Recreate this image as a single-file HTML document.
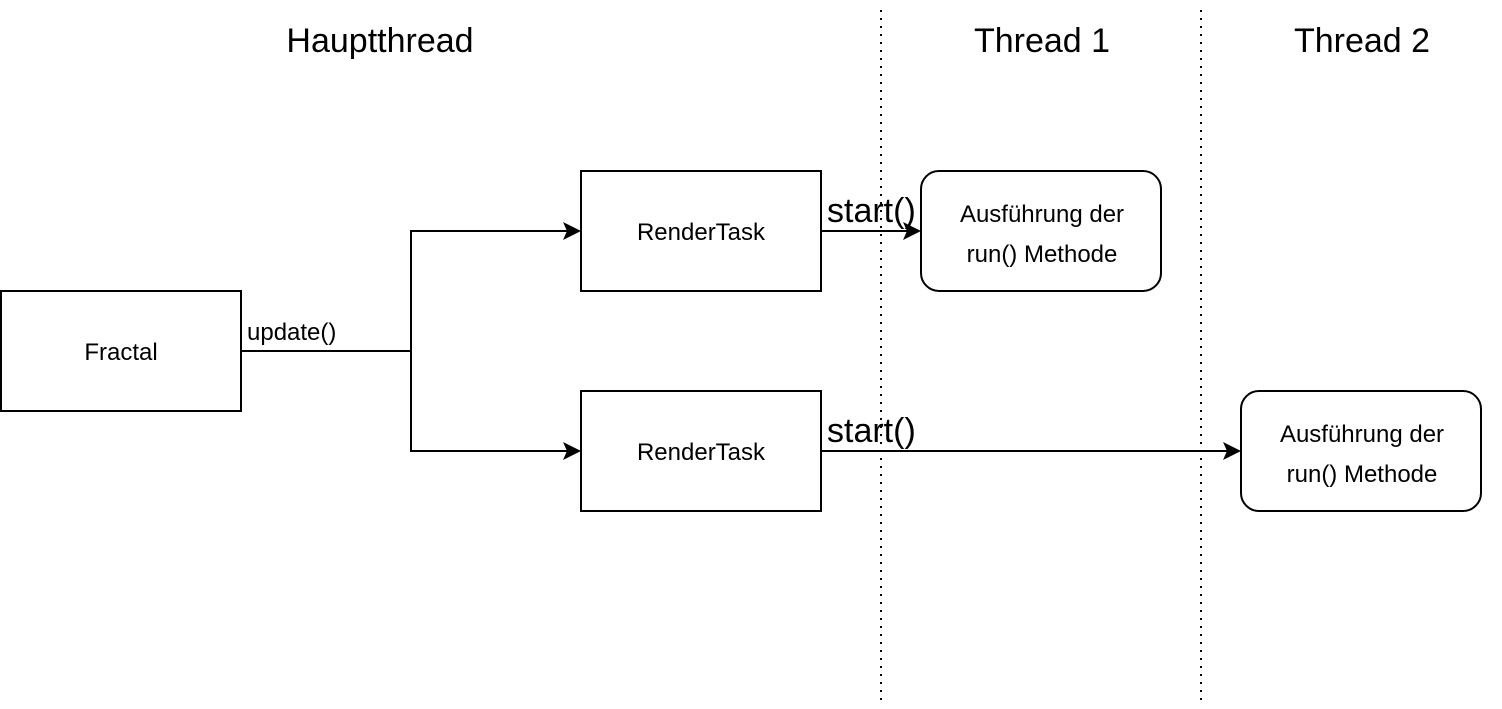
<!DOCTYPE html>
<html><head><meta charset="utf-8"><style>body{margin:0;background:#fff}</style></head>
<body>
<svg width="1502" height="704" viewBox="0 0 1502 704" xmlns="http://www.w3.org/2000/svg" font-family="Liberation Sans, sans-serif">
<g stroke="#000" stroke-width="2" stroke-dasharray="2,6" fill="none">
<line x1="881" y1="10" x2="881" y2="702"/><line x1="1201" y1="10" x2="1201" y2="702"/>
</g>
<g font-size="34" text-anchor="middle" fill="#000">
<text x="380" y="52">Hauptthread</text><text x="1042" y="52">Thread 1</text><text x="1362" y="52">Thread 2</text>
</g>
<g stroke="#000" stroke-width="2" fill="#fff">
<rect x="1" y="291" width="240" height="120"/>
<rect x="581" y="171" width="240" height="120"/>
<rect x="581" y="391" width="240" height="120"/>
<rect x="921" y="171" width="240" height="120" rx="18"/>
<rect x="1241" y="391" width="240" height="120" rx="18"/>
</g>
<g stroke="#000" stroke-width="2" fill="none">
<path d="M241,351 H411 V231 H570"/>
<path d="M411,351 V451 H570"/>
<path d="M821,231 H910"/>
<path d="M821,451 H1230"/>
</g>
<g fill="#000">
<path d="M581,231 L563,222 L567,231 L563,240 Z"/>
<path d="M581,451 L563,442 L567,451 L563,460 Z"/>
<path d="M921,231 L903,222 L907,231 L903,240 Z"/>
<path d="M1241,451 L1223,442 L1227,451 L1223,460 Z"/>
</g>
<g font-size="24" text-anchor="middle" fill="#000">
<text x="121" y="360">Fractal</text>
<text x="701" y="240">RenderTask</text>
<text x="701" y="460">RenderTask</text>
<text x="1042" y="222">Ausführung der</text><text x="1042" y="262">run() Methode</text>
<text x="1362" y="442">Ausführung der</text><text x="1362" y="482">run() Methode</text>
</g>
<text x="247" y="340" font-size="24" fill="#000">update()</text>
<g font-size="34" fill="#000"><text x="827" y="222">start()</text><text x="827" y="442">start()</text></g>
</svg>
</body></html>
